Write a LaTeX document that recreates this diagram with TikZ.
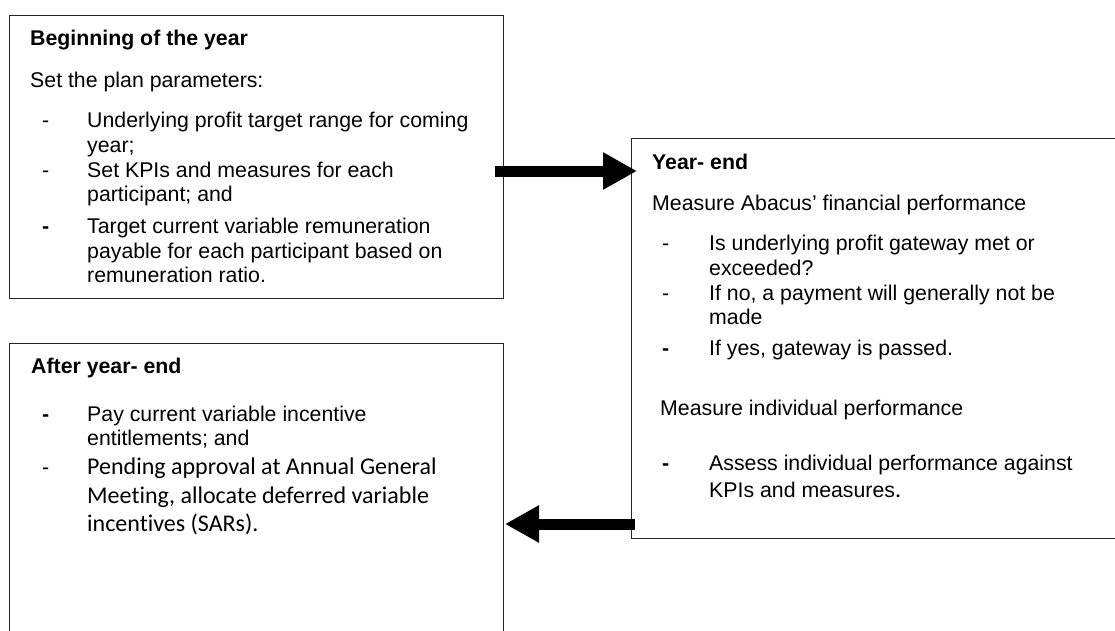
\documentclass[tikz,border=0pt]{standalone}
\usepackage{fontspec}
\setmainfont{Liberation Sans}
\newfontfamily\calfont[Ligatures=NoCommon]{Carlito}
\usetikzlibrary{arrows.meta,calc}
\tikzset{
  box/.style={draw=black!85, line width=1.3pt, anchor=north west, inner sep=0pt, fill=none},
  txt/.style={anchor=base west, inner sep=0pt, font=\fontsize{21.3}{25}\selectfont},
  ctxt/.style={anchor=base west, inner sep=0pt, font=\calfont\fontsize{24}{29}\selectfont},
  bigarrow/.style={line width=11pt, -{Triangle[length=34pt,width=35pt]}}
}
\begin{document}
\begin{tikzpicture}[x=1pt,y=-1pt]
\clip (0,0) rectangle (1115,630);
\fill[white] (0,0) rectangle (1115,630);
% boxes
\node[box, minimum width=494pt, minimum height=283pt] (b1) at (9,15) {};
\node[box, minimum width=520pt, minimum height=400pt] (b2) at (631,138) {};
\node[box, minimum width=494pt, minimum height=320pt] (b3) at (9,343) {};
% box 1 text
\node[txt] (t11) at (30,45) {\textbf{Beginning of the year}};
\node[txt] (t12) at (30,87) {Set the plan parameters:};
\node[txt] (d11) at (42,127) {-};
\node[txt] (t13) at (87,127) {Underlying profit target range for coming};
\node[txt] (t14) at (87,152) {year;};
\node[txt] (d12) at (42,177) {-};
\node[txt] (t15) at (87,177) {Set KPIs and measures for each};
\node[txt] (t16) at (87,201) {participant; and};
\node[txt] (d13) at (42,233) {\textbf{-}};
\node[txt] (t17) at (87,233) {Target current variable remuneration};
\node[txt] (t18) at (87,258) {payable for each participant based on};
\node[txt] (t19) at (87,282) {remuneration ratio.};
% box 2 text
\node[txt] (t21) at (652,169) {\textbf{Year- end}};
\node[txt] (t22) at (652,210) {Measure Abacus’ financial performance};
\node[txt] (d21) at (662,250) {-};
\node[txt] (t23) at (709,250) {Is underlying profit gateway met or};
\node[txt] (t24) at (709,275) {exceeded?};
\node[txt] (d22) at (662,300) {-};
\node[txt] (t25) at (709,300) {If no, a payment will generally not be};
\node[txt] (t26) at (709,324) {made};
\node[txt] (d23) at (662,355) {\textbf{-}};
\node[txt] (t27) at (709,355) {If yes, gateway is passed.};
\node[txt] (t28) at (660,415) {Measure individual performance};
\node[txt] (d24) at (662,470) {\textbf{-}};
\node[txt] (t29) at (709,470) {Assess individual performance against};
\node[txt] (t2a) at (709,497) {KPIs and measures{\calfont\fontsize{24}{29}\selectfont .}};
% box 3 text
\node[txt] (t31) at (31,373) {\textbf{After year- end}};
\node[txt] (d31) at (42,421) {\textbf{-}};
\node[txt] (t32) at (87,421) {Pay current variable incentive};
\node[txt] (t33) at (87,445) {entitlements; and};
\node[txt] (d32) at (42,474) {-};
\node[ctxt] (t34) at (87,474) {Pending approval at Annual General};
\node[ctxt] (t35) at (87,503) {Meeting, allocate deferred variable};
\node[ctxt] (t36) at (87,531) {incentives (SARs).};
% arrows
\coordinate (a1s) at (495,171);
\coordinate (a1e) at (637,171);
\coordinate (a2s) at (635,524);
\coordinate (a2e) at (505,524);
\draw[bigarrow] (a1s) -- (a1e);
\draw[bigarrow] (a2s) -- (a2e);
\end{tikzpicture}
\end{document}
